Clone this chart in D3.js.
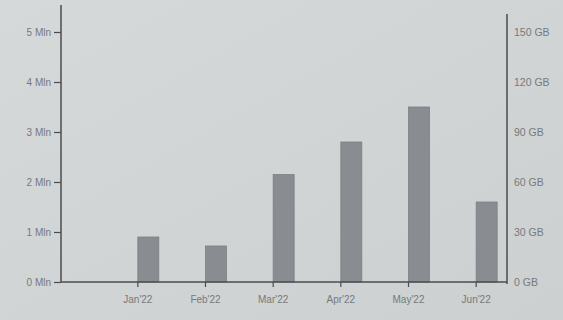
<!DOCTYPE html>
<html>
<head>
<meta charset="utf-8">
<script src="https://cdn.jsdelivr.net/npm/d3@7"></script>
<style>
  html, body { margin: 0; padding: 0; background: #d1d4d4; }
  svg { display: block; }
  text { font-family: "Liberation Sans", Arial, sans-serif; }
</style>
</head>
<body>
<svg id="chart" width="563" height="320"></svg>
<script>
const months = ["Jan'22", "Feb'22", "Mar'22", "Apr'22", "May'22", "Jun'22"];
const values = [0.9, 0.72, 2.15, 2.8, 3.5, 1.6]; // millions
const leftTicks = [0, 1, 2, 3, 4, 5];
const leftTickLabels = ["0 Mln", "1 Mln", "2 Mln", "3 Mln", "4 Mln", "5 Mln"];
const rightTicks = [0, 30, 60, 90, 120, 150];
const rightTickLabels = ["0 GB", "30 GB", "60 GB", "90 GB", "120 GB", "150 GB"];

const svg = d3.select("#chart");
const W = 563, H = 320;
const left = 61, right = 507, base = 282, top5 = 32;

// background
const grad = svg.append("defs").append("linearGradient")
  .attr("id", "bg").attr("x1", "0").attr("y1", "0").attr("x2", "1").attr("y2", "1");
grad.append("stop").attr("offset", "0%").attr("stop-color", "#d6d9d9");
grad.append("stop").attr("offset", "100%").attr("stop-color", "#ccd0d0");
svg.append("rect").attr("width", W).attr("height", H).attr("fill", "url(#bg)");

const x = d3.scaleBand().domain(months).range([104, 510]);
const y = d3.scaleLinear().domain([0, 5]).range([base, top5]);
const y2 = d3.scaleLinear().domain([0, 150]).range([base, top5]);

const axisColor = "#4a4c4e";
const labelColor = "#77797b";

// bars
svg.append("g").selectAll("rect").data(values).join("rect")
  .attr("x", (d, i) => x(months[i]) + x.bandwidth() / 2)
  .attr("width", x.bandwidth() * 0.31)
  .attr("y", d => y(d))
  .attr("height", d => y(0) - y(d))
  .attr("fill", "#898c90")
  .attr("stroke", "#7c7f83")
  .attr("stroke-width", 0.8);

// left axis
const gl = svg.append("g").attr("transform", `translate(${left},0)`)
  .call(d3.axisLeft(y).tickValues(leftTicks).tickSize(7).tickPadding(3)
    .tickFormat((d, i) => leftTickLabels[i]));
gl.select(".domain").remove();
gl.selectAll(".tick line").attr("stroke", axisColor).attr("stroke-width", 1.2);
gl.selectAll(".tick text").attr("fill", labelColor).style("font-size", "10px");
svg.append("line").attr("x1", left).attr("x2", left).attr("y1", 5).attr("y2", base)
  .attr("stroke", axisColor).attr("stroke-width", 1.5);

// right axis
const gr = svg.append("g").attr("transform", `translate(${right},0)`)
  .call(d3.axisRight(y2).tickValues(rightTicks).tickSize(0).tickPadding(7)
    .tickFormat((d, i) => rightTickLabels[i]));
gr.select(".domain").remove();
gr.selectAll(".tick text").attr("fill", labelColor).style("font-size", "10.5px");
svg.append("line").attr("x1", right).attr("x2", right).attr("y1", 14).attr("y2", base + 2)
  .attr("stroke", axisColor).attr("stroke-width", 1.5);

// bottom axis
const gb = svg.append("g").attr("transform", `translate(0,${base})`)
  .call(d3.axisBottom(x).tickSize(5).tickPadding(9));
gb.select(".domain").remove();
gb.selectAll(".tick line").attr("stroke", axisColor).attr("stroke-width", 1.2);
gb.selectAll(".tick text").attr("fill", labelColor).style("font-size", "10px");
svg.append("line").attr("x1", left).attr("x2", right).attr("y1", base).attr("y2", base)
  .attr("stroke", axisColor).attr("stroke-width", 1.5);
</script>
</body>
</html>
